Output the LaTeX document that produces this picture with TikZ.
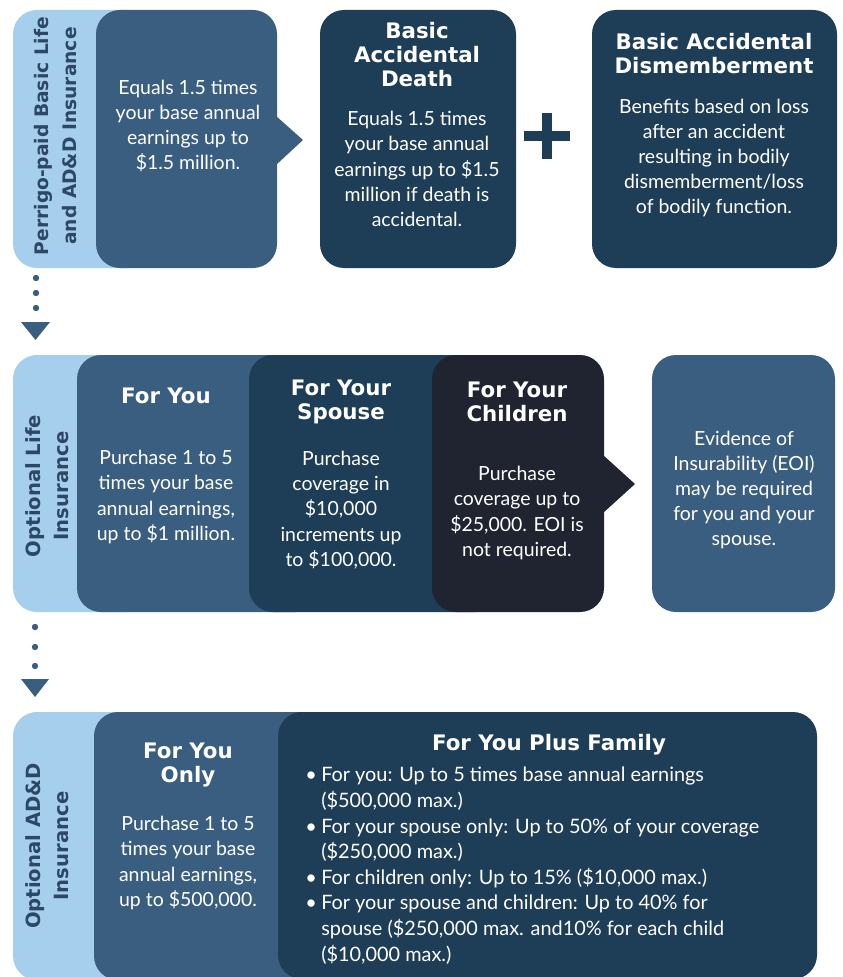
\documentclass[tikz,border=0pt]{standalone}
\usepackage{fontspec}
\setmainfont{Lato}
\newfontfamily\headfont{DejaVu Sans}
\definecolor{lightbl}{RGB}{166,206,237}
\definecolor{midbl}{RGB}{58,94,128}
\definecolor{navy}{RGB}{30,61,87}
\definecolor{charc}{RGB}{31,36,48}
\definecolor{labeltext}{RGB}{44,72,102}
\newcommand\bul{\makebox[12pt][l]{\textbullet}}
\newcommand\ind{\hspace*{12pt}}
\begin{document}
\begin{tikzpicture}[x=0.75pt,y=-0.75pt,
  body/.style={text=white, align=center, font=\fontsize{14.6}{18.9}\selectfont, inner sep=0pt},
  head/.style={text=white, align=center, font=\headfont\fontsize{16}{18}\selectfont\bfseries, inner sep=0pt},
  side/.style={text=labeltext, align=center, rotate=90, font=\headfont\fontsize{14.7}{21}\selectfont\bfseries, inner sep=0pt},
  rr/.style={rounded corners=18pt}]
\useasboundingbox (0,0) rectangle (842,977);
\begin{scope}
\clip (0,0) rectangle (842,977);
% ---------- row 1 ----------
\fill[lightbl, rr] (13,10) rectangle (150,268);
\fill[midbl, rr] (96,10) rectangle (277,268);
\fill[midbl] (276,116) -- (303,140) -- (276,165) -- cycle;
\fill[navy, rr] (320,10) rectangle (516,268);
\fill[navy] (524,131) rectangle (570,141);
\fill[navy] (542,113) rectangle (552,159);
\fill[navy, rr] (592,10) rectangle (837,268);
% dots 1
\foreach \yy in {278,293,308} \fill[midbl] (36,\yy) circle[radius=3.2];
\fill[midbl] (21,322) -- (50,322) -- (35.5,340) -- cycle;
% ---------- row 2 ----------
\fill[lightbl, rr] (13,355) rectangle (150,612);
\fill[midbl, rr] (77,355) rectangle (320,612);
\fill[navy, rr] (249,355) rectangle (500,612);
\fill[charc, rr] (432,355) rectangle (604,612);
\fill[charc] (603,455) -- (635,484) -- (603,513) -- cycle;
\fill[midbl, rr] (652,355) rectangle (835,612);
% dots 2
\foreach \yy in {627,647,666} \fill[midbl] (35,\yy) circle[radius=3.2];
\fill[midbl] (21,679) -- (49,679) -- (35,697) -- cycle;
% ---------- row 3 ----------
\fill[lightbl, rr] (13,712) rectangle (150,980);
\fill[midbl, rr] (94,712) rectangle (330,980);
\fill[navy, rr] (278,712) rectangle (817,979);
\end{scope}
% ---------- texts row 1 ----------
\node[side, font=\headfont\fontsize{14}{21}\selectfont\bfseries] (lab1) at (56,136) {Perrigo-paid Basic Life\\and AD\&D Insurance};
\node[body] (b1t) at (188,126) {Equals 1.5 times\\your base annual\\earnings up to\\\$1.5 million.};
\node[head] (b2h) at (417,55) {Basic\\Accidental\\Death};
\node[body] (b2t) at (417,169) {Equals 1.5 times\\your base annual\\earnings up to \$1.5\\million if death is\\accidental.};
\node[head] (b3h) at (714,54) {Basic Accidental\\Dismemberment};
\node[body] (b3t) at (714,158) {Benefits based on loss\\after an accident\\resulting in bodily\\dismemberment/loss\\of bodily function.};
% ---------- texts row 2 ----------
\node[side] (lab2) at (47,486) {Optional Life\\Insurance};
\node[head] (youh) at (166,396) {For You};
\node[body] (yout) at (166,497) {Purchase 1 to 5\\times your base\\annual earnings,\\up to \$1 million.};
\node[head] (spoh) at (341,402) {For Your\\Spouse};
\node[body] (spot) at (341,510) {Purchase\\coverage in\\\$10,000\\increments up\\to \$100,000.};
\node[head] (chih) at (517,402) {For Your\\Children};
\node[body] (chit) at (517,513) {Purchase\\coverage up to\\\$25,000. EOI is\\not required.};
\node[body] (eoit) at (744,490) {Evidence of\\Insurability (EOI)\\may be required\\for you and your\\spouse.};
% ---------- texts row 3 ----------
\node[side] (lab3) at (47,846) {Optional AD\&D\\Insurance};
\node[head] (onlh) at (188,765) {For You\\Only};
\node[body] (onlt) at (188,863) {Purchase 1 to 5\\times your base\\annual earnings,\\up to \$500,000.};
\node[head] (famh) at (549,745) {For You Plus Family};
\node[body, align=left, anchor=north west, font=\fontsize{14.9}{19.2}\selectfont] (famt) at (305,767) {%
\bul For you: Up to 5 times base annual earnings\\
\ind(\$500,000 max.)\\
\bul For your spouse only: Up to 50\% of your coverage\\
\ind(\$250,000 max.)\\
\bul For children only: Up to 15\% (\$10,000 max.)\\
\bul For your spouse and children: Up to 40\% for\\
\ind spouse (\$250,000 max. and10\% for each child\\
\ind(\$10,000 max.)};
\end{tikzpicture}
\end{document}
